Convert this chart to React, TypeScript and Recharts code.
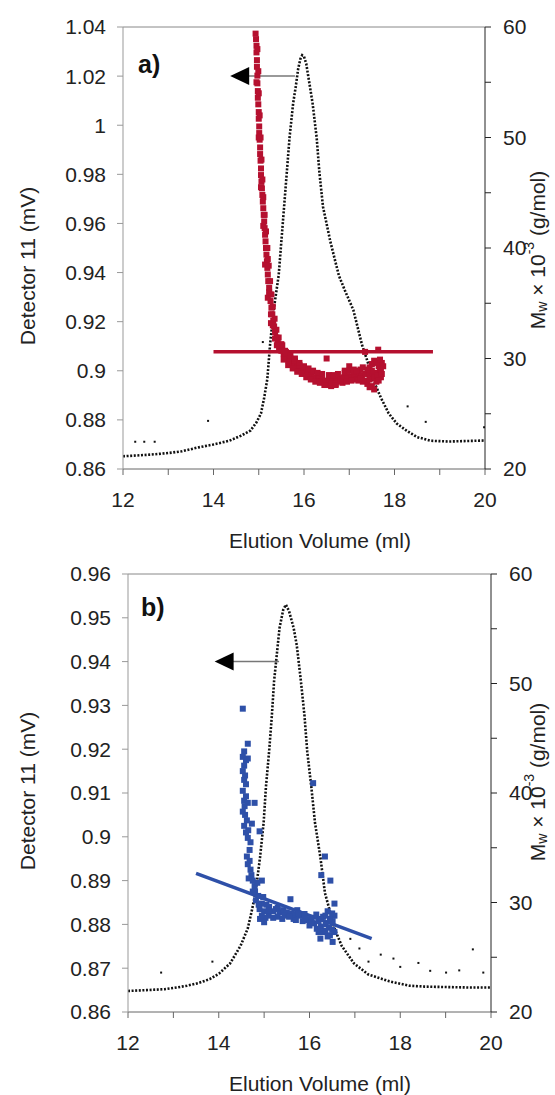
import React from 'react';
import { ComposedChart, Line, Scatter, XAxis, YAxis, ReferenceLine } from 'recharts';

// panel a) — detector trace (left axis) and Mw points (right axis)
const traceA: [number, number][] = [
  [12.0, 0.8652], [12.3, 0.8655], [12.63, 0.8659], [13.0, 0.8665], [13.3, 0.8672], [13.64, 0.8687],
  [14.0, 0.87], [14.35, 0.8715], [14.6, 0.8735], [14.82, 0.8757], [14.95, 0.879], [15.05, 0.8827],
  [15.12, 0.889], [15.19, 0.8967], [15.25, 0.9107], [15.33, 0.9248], [15.44, 0.9388], [15.5, 0.9528],
  [15.56, 0.9668], [15.62, 0.9808], [15.68, 0.9949], [15.76, 1.0089], [15.82, 1.016], [15.87, 1.0229],
  [15.92, 1.027], [15.96, 1.0285], [16.0, 1.028], [16.05, 1.025], [16.12, 1.017], [16.19, 1.0089],
  [16.28, 0.9949], [16.34, 0.9808], [16.42, 0.9668], [16.58, 0.9528], [16.77, 0.9388], [16.92, 0.932],
  [17.09, 0.9248], [17.28, 0.9107], [17.4, 0.904], [17.52, 0.8967], [17.7, 0.889], [17.87, 0.8827],
  [18.05, 0.8785], [18.26, 0.8757], [18.5, 0.873], [18.8, 0.8715], [19.2, 0.8712], [19.6, 0.8714], [20.0, 0.8716],
];
const strayA: [number, number][] = [
  [12.27, 0.8711], [12.47, 0.8711], [12.7, 0.8711], [13.88, 0.8796], [15.09, 0.9117],
  [18.29, 0.8855], [18.69, 0.8792], [19.98, 0.877],
];
const mwA: [number, number][] = [
  [14.93, 59.4], [14.94, 58.9], [14.95, 58.3], [14.95, 57.7], [14.96, 57.0], [14.96, 56.4], [14.97, 55.6],
  [14.97, 54.9], [14.98, 54.2], [14.98, 53.6], [14.99, 53.0], [15.0, 52.3], [15.0, 51.7], [15.01, 51.0],
  [15.01, 50.4], [15.02, 49.8], [15.03, 49.1], [15.03, 48.5], [15.04, 47.9], [15.05, 47.2], [15.05, 46.6],
  [15.06, 46.0], [15.07, 45.4], [15.08, 44.8], [15.09, 44.2], [15.1, 43.6], [15.11, 43.0], [15.12, 42.4],
  [15.13, 41.8], [15.14, 41.2], [15.15, 40.6], [15.16, 40.0], [15.17, 39.4], [15.18, 38.8], [15.19, 38.2],
  [15.2, 37.6], [15.21, 37.0], [15.23, 36.4], [15.24, 35.8], [15.26, 35.2], [15.28, 34.6], [15.3, 34.0],
  [15.32, 33.4], [15.34, 32.9], [15.36, 32.4], [15.39, 31.9], [15.42, 31.5], [15.46, 31.1], [15.5, 30.7],
  [15.55, 30.4], [15.6, 30.1], [15.66, 29.8], [15.72, 29.6], [15.78, 29.4], [15.85, 29.2], [15.92, 29.0],
  [16.0, 28.8], [16.08, 28.6], [16.16, 28.5], [16.24, 28.3], [16.32, 28.2], [16.4, 28.1], [16.48, 28.0],
  [16.56, 28.0], [16.64, 28.0], [16.72, 28.1], [16.8, 28.2], [16.88, 28.3], [16.96, 28.4], [17.04, 28.4],
  [17.12, 28.5], [17.2, 28.5], [17.28, 28.5], [17.36, 28.6], [17.44, 28.6], [17.52, 28.6], [17.6, 28.7],
  [17.68, 28.9], [15.62, 30.5], [15.7, 30.0], [15.8, 29.8], [15.9, 29.4], [16.05, 29.0], [16.2, 28.8],
  [16.35, 28.5], [16.5, 27.6], [16.6, 27.7], [16.7, 27.7], [16.5, 30.0], [16.9, 28.9], [17.0, 29.3],
  [17.15, 28.1], [17.25, 29.0], [17.35, 30.6], [17.4, 27.7], [17.45, 29.2], [17.5, 27.5], [17.55, 29.8],
  [17.6, 27.9], [17.64, 30.8], [17.65, 29.3], [17.7, 28.3], [17.72, 29.6], [17.5, 28.9], [17.58, 28.2],
  [17.3, 27.9], [17.1, 29.0], [16.8, 27.9], [15.45, 30.8], [15.52, 31.2], [15.58, 30.7],
  [14.95, 55.0], [15.0, 50.0], [15.05, 45.5], [15.1, 42.0], [15.14, 38.5], [15.2, 35.5], [15.27, 33.2],
  [15.5, 31.3], [15.55, 29.9], [15.6, 30.6], [15.65, 29.4], [15.7, 30.3], [15.75, 29.1], [15.8, 30.0],
  [15.85, 28.8], [15.9, 29.6], [15.95, 28.6], [16.0, 29.3], [16.05, 28.3], [16.1, 29.1], [16.15, 28.1],
  [16.2, 28.9], [16.25, 27.9], [16.3, 28.7], [16.35, 27.8], [16.4, 28.6], [16.45, 27.6], [16.55, 28.5],
  [16.6, 27.5], [16.65, 28.5], [16.7, 27.6], [16.75, 28.6], [16.85, 27.8], [16.9, 28.7], [16.95, 27.9],
  [17.0, 28.9], [17.05, 28.0], [17.1, 28.8], [17.15, 28.9], [17.2, 28.0], [17.25, 28.2], [17.3, 29.2],
  [17.35, 28.0], [17.4, 29.0], [17.45, 28.1], [17.5, 29.5], [17.55, 28.3], [17.6, 29.6], [17.62, 28.5],
  [17.65, 28.0], [17.68, 29.9], [17.7, 29.0], [17.72, 28.6], [17.75, 29.3], [17.55, 27.2], [17.45, 27.4],
  [14.97, 58.0], [14.99, 56.0], [15.0, 54.0], [15.02, 52.0], [15.04, 50.0], [15.06, 48.0], [15.08, 46.2],
  [15.1, 44.6], [15.13, 43.0], [15.16, 41.5], [15.19, 40.0], [15.22, 38.4], [15.25, 37.0], [15.28, 35.8],
  [15.31, 34.7], [15.35, 33.6], [15.39, 32.6], [15.44, 31.9], [15.2, 39.0], [15.23, 36.0], [15.27, 34.0],
  [15.31, 33.0], [15.36, 31.8], [15.4, 31.2],
];
const fitA: [number, number][] = [[14.0, 30.6], [18.85, 30.6]];
const arrowA = { from: 15.8, to: 14.7, head: 14.59, level: 1.02 };

// panel b)
const traceB: [number, number][] = [
  [12.0, 0.8648], [12.4, 0.865], [12.8, 0.8652], [13.08, 0.8656], [13.3, 0.866], [13.55, 0.8666],
  [13.8, 0.8675], [14.01, 0.8688], [14.25, 0.8711], [14.48, 0.8751], [14.64, 0.8791], [14.73, 0.8832],
  [14.81, 0.8872], [14.91, 0.8953], [14.99, 0.9033], [15.04, 0.9114], [15.11, 0.9195], [15.17, 0.9276],
  [15.22, 0.9356], [15.3, 0.9437], [15.34, 0.9477], [15.42, 0.9518], [15.48, 0.953], [15.55, 0.9515],
  [15.65, 0.9477], [15.72, 0.9437], [15.81, 0.9356], [15.89, 0.9276], [15.95, 0.9195], [16.04, 0.9114],
  [16.12, 0.9033], [16.24, 0.8953], [16.34, 0.8872], [16.45, 0.883], [16.55, 0.8791], [16.71, 0.8751],
  [16.98, 0.8711], [17.29, 0.8686], [17.76, 0.867], [18.2, 0.866], [18.54, 0.8658], [19.0, 0.8657],
  [19.5, 0.8656], [20.0, 0.8656],
];
const strayB: [number, number][] = [
  [12.73, 0.869], [13.86, 0.8715], [16.9, 0.8767], [17.57, 0.8731], [17.85, 0.8722], [18.0, 0.8703],
  [18.4, 0.8712], [18.66, 0.8694], [19.01, 0.869], [19.3, 0.8695], [19.6, 0.8743], [19.83, 0.869],
  [17.3, 0.8715], [17.1, 0.8745],
];
const mwB: [number, number][] = [
  [14.53, 47.7], [14.64, 44.5], [14.56, 43.8], [14.53, 43.3], [14.6, 43.0], [14.64, 43.15], [14.56, 42.5],
  [14.53, 42.0], [14.58, 41.6], [14.56, 41.2], [14.53, 40.2], [14.56, 39.3], [14.6, 39.7], [14.64, 39.1],
  [14.79, 39.1], [14.53, 38.3], [14.58, 38.0], [14.73, 37.2], [14.56, 37.0], [14.9, 36.5], [14.64, 35.9],
  [14.6, 36.4], [14.68, 34.8], [14.62, 34.2], [14.64, 33.5], [14.7, 33.0], [14.72, 32.5], [14.66, 32.2],
  [14.79, 31.5], [14.95, 32.0], [14.75, 31.0], [14.87, 30.6], [14.82, 30.2], [14.95, 29.9], [14.9, 29.4],
  [15.03, 28.6], [14.91, 28.5], [15.0, 29.2], [15.11, 29.6], [15.2, 29.2], [15.26, 29.4], [15.34, 29.1],
  [15.42, 29.3], [15.5, 29.1], [15.58, 30.3], [15.6, 29.0], [15.68, 28.9], [15.73, 29.3], [15.8, 28.8],
  [15.89, 28.95], [15.95, 28.4], [16.04, 28.6], [16.1, 28.1], [16.2, 28.3], [16.16, 27.6], [16.25, 27.8],
  [16.36, 28.0], [16.3, 27.3], [16.43, 27.7], [16.51, 28.3], [16.55, 29.9], [16.51, 26.4], [16.24, 26.7],
  [16.45, 27.0], [16.55, 28.8], [16.4, 29.2], [16.08, 40.9], [16.34, 34.2], [16.26, 32.5], [16.46, 32.0],
  [15.1, 28.8], [15.3, 28.7], [15.45, 28.8], [15.65, 28.5], [15.85, 28.3], [16.0, 27.9], [16.3, 28.7],
  [16.5, 27.5], [14.98, 30.5], [15.05, 29.8], [14.85, 31.8], [14.7, 35.5], [14.6, 40.8], [14.62, 37.5],
  [15.1, 29.3], [15.2, 28.6], [15.3, 29.5], [15.4, 28.5], [15.55, 28.7], [15.7, 28.4], [15.75, 29.0],
  [15.9, 28.5], [16.05, 28.2], [16.15, 28.9], [16.2, 27.3], [16.35, 27.4], [16.4, 26.9], [16.45, 28.5],
  [16.5, 29.0], [16.55, 27.3], [16.35, 28.8], [16.25, 28.5], [15.0, 28.2], [14.95, 28.8], [14.88, 29.8],
  [14.8, 31.0], [14.75, 32.0], [14.68, 33.8], [14.65, 36.6], [14.57, 38.8],
];
const fitB: [number, number][] = [[13.5, 32.65], [17.37, 26.7]];
const arrowB = { from: 15.33, to: 14.25, head: 14.13, level: 0.94 };

const xTicks = [12, 13, 14, 15, 16, 17, 18, 19, 20];
const leftTicksA = [0.86, 0.88, 0.9, 0.92, 0.94, 0.96, 0.98, 1.0, 1.02, 1.04];
const leftTicksB = [0.86, 0.87, 0.88, 0.89, 0.9, 0.91, 0.92, 0.93, 0.94, 0.95, 0.96];
const rightTicks = [20, 25, 30, 35, 40, 45, 50, 55, 60];

const toPts = (arr: [number, number][]) => arr.map(([x, y]) => ({ x, y }));
const FONT = '"Liberation Sans", Arial, sans-serif';
const tickStyle = { fontSize: 21, fill: '#222', fontFamily: FONT };

const square = (color: string, s: number) => (p: any) =>
  <rect x={p.cx - s / 2} y={p.cy - s / 2} width={s} height={s} fill={color} />;
const dot = (p: any) => <rect x={p.cx - 1} y={p.cy - 1} width={2} height={2} fill="#111" />;
const head = (p: any) => (
  <path d={`M${p.cx - 10},${p.cy} L${p.cx + 9},${p.cy - 9} L${p.cx + 9},${p.cy + 9} Z`} fill="#000" />
);

interface PanelProps {
  trace: [number, number][];
  stray: [number, number][];
  mw: [number, number][];
  fit: [number, number][];
  arrow: { from: number; to: number; head: number; level: number };
  leftTicks: number[];
  color: string;
  margin: { top: number; right: number; bottom: number; left: number };
  height: number;
}

const Panel: React.FC<PanelProps> = ({ trace, stray, mw, fit, arrow, leftTicks, color, margin, height }) => {
  const lo = leftTicks[0];
  const hi = leftTicks[leftTicks.length - 1];
  return (
    <ComposedChart width={555} height={height} margin={margin}>
      <XAxis
        type="number" dataKey="x" domain={[12, 20]} ticks={xTicks} allowDataOverflow
        tickFormatter={(v) => (v % 2 === 0 ? String(v) : '')}
        stroke="#666" tickSize={6} tickMargin={17} tick={tickStyle} height={50}
      />
      <YAxis
        yAxisId="left" type="number" dataKey="y" domain={[lo, hi]} ticks={leftTicks} allowDataOverflow
        tickFormatter={(v) => String(Number(v.toFixed(2)))}
        stroke="#999" tickSize={6} tickMargin={11} tick={tickStyle} width={60}
      />
      <YAxis
        yAxisId="right" orientation="right" type="number" dataKey="y" domain={[20, 60]} ticks={rightTicks}
        allowDataOverflow tickFormatter={(v) => (v % 10 === 0 ? String(v) : '')}
        stroke="#222" tickSize={6} tickMargin={12} tick={tickStyle} width={60}
      />
      <ReferenceLine yAxisId="left" y={hi} stroke="#888" strokeWidth={1} />
      <Line
        yAxisId="left" data={toPts(trace)} dataKey="y" stroke="#111" strokeWidth={2.6}
        strokeDasharray="2 1.6" dot={false} isAnimationActive={false} type="linear"
      />
      <Scatter yAxisId="left" data={toPts(stray)} shape={dot} isAnimationActive={false} />
      <Scatter yAxisId="right" data={toPts(mw)} shape={square(color, 6)} isAnimationActive={false} />
      <Line
        yAxisId="right" data={toPts(fit)} dataKey="y" stroke={color} strokeWidth={3.5}
        dot={false} isAnimationActive={false} type="linear"
      />
      <ReferenceLine
        yAxisId="left" stroke="#777" strokeWidth={1.5}
        segment={[{ x: arrow.from, y: arrow.level }, { x: arrow.to, y: arrow.level }]}
      />
      <Scatter yAxisId="left" data={[{ x: arrow.head, y: arrow.level }]} shape={head} isAnimationActive={false} />
    </ComposedChart>
  );
};

const Titles: React.FC = () => (
  <svg width={555} height={1095} style={{ position: 'absolute', left: 0, top: 0, pointerEvents: 'none' }}>
    <g fontFamily={FONT} fontSize={21} fill="#222">
      <text x={27} y={266} transform="rotate(-90 27 266)" textAnchor="middle" dominantBaseline="central">Detector 11 (mV)</text>
      <text x={27} y={791} transform="rotate(-90 27 791)" textAnchor="middle" dominantBaseline="central">Detector 11 (mV)</text>
      <text x={537} y={250} transform="rotate(-90 537 250)" textAnchor="middle" dominantBaseline="central">
        M<tspan fontSize={14} dy={5}>w</tspan><tspan dy={-5}> × 10</tspan><tspan fontSize={14} dy={-8}>-3</tspan><tspan dy={8}> (g/mol)</tspan>
      </text>
      <text x={537} y={782} transform="rotate(-90 537 782)" textAnchor="middle" dominantBaseline="central">
        M<tspan fontSize={14} dy={5}>w</tspan><tspan dy={-5}> × 10</tspan><tspan fontSize={14} dy={-8}>-3</tspan><tspan dy={8}> (g/mol)</tspan>
      </text>
      <text x={320} y={548} textAnchor="middle">Elution Volume (ml)</text>
      <text x={320} y={1091} textAnchor="middle">Elution Volume (ml)</text>
      <text x={138} y={73} fontSize={25} fontWeight="bold" fill="#111">a)</text>
      <text x={141} y={616} fontSize={25} fontWeight="bold" fill="#111">b)</text>
    </g>
  </svg>
);

export default function App() {
  return (
    <div style={{ position: 'absolute', left: 0, top: 0, width: 555, height: 1095, background: '#fff', overflow: 'hidden' }}>
      <div style={{ position: 'absolute', left: 0, top: 0 }}>
        <Panel
          trace={traceA} stray={strayA} mw={mwA} fit={fitA} arrow={arrowA} leftTicks={leftTicksA}
          color="#B5102F" height={540} margin={{ top: 27, right: 10, bottom: 21, left: 63 }}
        />
      </div>
      <div style={{ position: 'absolute', left: 0, top: 540 }}>
        <Panel
          trace={traceB} stray={strayB} mw={mwB} fit={fitB} arrow={arrowB} leftTicks={leftTicksB}
          color="#2E50A8" height={555} margin={{ top: 34, right: 4, bottom: 33, left: 68 }}
        />
      </div>
      <Titles />
    </div>
  );
}
